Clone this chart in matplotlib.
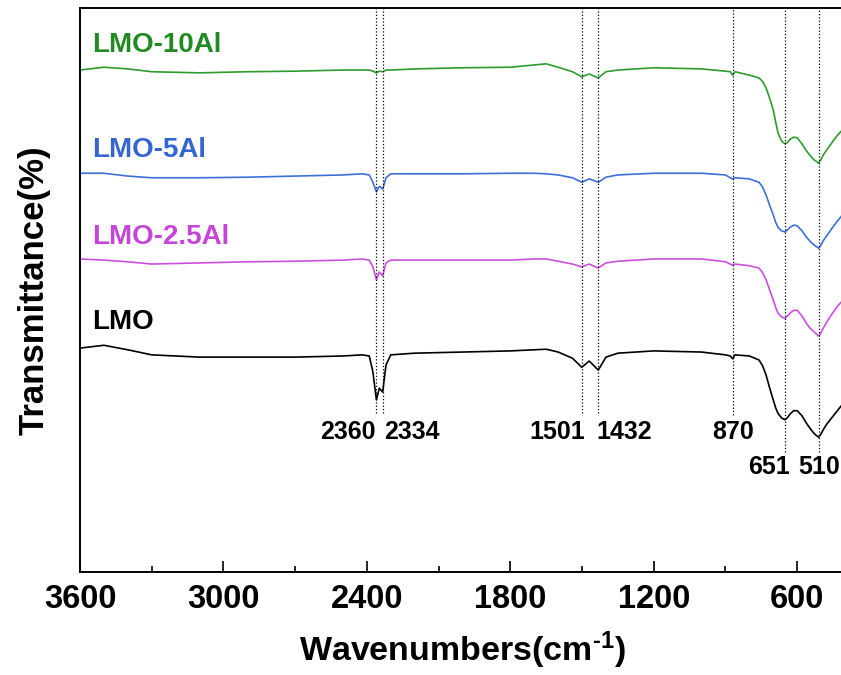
import numpy as np
import matplotlib
matplotlib.use('Agg')
import matplotlib.pyplot as plt

plt.rcParams['font.family'] = ['Liberation Sans', 'DejaVu Sans']
plt.rcParams['font.weight'] = 'bold'
plt.rcParams['mathtext.fontset'] = 'custom'
plt.rcParams['mathtext.rm'] = 'Liberation Sans:bold'
plt.rcParams['mathtext.default'] = 'rm'

# wavenumbers shared by all four spectra (cm-1)
wavenumber = [3600, 3500, 3400, 3300, 3100, 2900, 2700, 2500, 2420, 2390,
              2375, 2360, 2348, 2334, 2320, 2300, 2200, 2000, 1800, 1700,
              1650, 1600, 1540, 1501, 1470, 1432, 1400, 1350, 1200, 1000,
              900, 880, 870, 860, 800, 760, 745, 730, 715, 700,
              690, 680, 665, 651, 640, 630, 615, 600, 580, 560,
              545, 530, 520, 510, 500, 490, 475, 460, 445, 430,
              415, 400]

# stacked transmittance traces (offset, arb. units)
lmo_10al = [89.0, 89.5, 89.2, 88.7, 88.5, 88.7, 88.8, 89.0, 89.0, 89.0,
            88.8, 88.5, 88.8, 88.7, 89.0, 89.0, 89.2, 89.4, 89.5, 89.9,
            90.1, 89.5, 88.7, 87.8, 88.3, 87.6, 88.7, 89.0, 89.4, 89.2,
            88.8, 88.7, 88.1, 88.7, 88.1, 87.6, 87.0, 85.8, 84.0, 81.9,
            79.8, 77.8, 76.4, 75.9, 76.2, 76.7, 77.1, 77.0, 75.9, 74.6,
            73.8, 73.1, 72.8, 72.5, 73.2, 74.0, 74.9, 75.8, 76.7, 77.5,
            78.2, 78.7]
lmo_5al = [70.7, 70.7, 70.2, 69.9, 69.9, 70.0, 70.2, 70.4, 70.6, 70.4,
           69.1, 67.4, 68.4, 67.9, 69.9, 70.6, 70.6, 70.6, 70.7, 70.7,
           70.6, 70.4, 69.9, 69.1, 69.7, 69.1, 70.0, 70.4, 70.7, 70.7,
           70.4, 69.9, 69.7, 69.9, 69.7, 69.1, 68.3, 66.8, 65.0, 63.3,
           62.0, 61.1, 60.5, 60.3, 60.7, 61.1, 61.5, 61.4, 60.5, 59.3,
           58.6, 58.0, 57.7, 57.4, 58.0, 58.8, 59.7, 60.6, 61.5, 62.3,
           63.1, 63.7]
lmo_25al = [55.5, 55.3, 55.0, 54.6, 54.8, 55.0, 55.1, 55.3, 55.5, 55.3,
            54.1, 51.8, 53.2, 52.5, 54.8, 55.3, 55.3, 55.3, 55.3, 55.5,
            55.5, 55.1, 54.6, 54.1, 54.6, 53.9, 54.8, 55.1, 55.5, 55.5,
            55.0, 54.6, 54.4, 54.6, 54.3, 53.9, 53.1, 51.8, 50.0, 48.2,
            46.9, 45.9, 45.2, 45.0, 45.4, 45.9, 46.4, 46.4, 45.4, 44.0,
            43.2, 42.6, 42.2, 41.8, 42.5, 43.3, 44.4, 45.4, 46.3, 47.2,
            47.9, 48.4]
lmo = [39.7, 40.2, 39.4, 38.5, 38.1, 38.1, 38.1, 38.3, 38.5, 38.3,
       35.5, 30.5, 32.6, 31.9, 36.7, 38.5, 38.8, 39.0, 39.2, 39.4,
       39.5, 39.0, 37.9, 36.3, 37.4, 35.8, 38.1, 38.8, 39.2, 39.0,
       38.5, 38.3, 37.8, 38.5, 38.3, 37.6, 36.6, 34.9, 32.6, 30.5,
       29.1, 28.1, 27.3, 27.0, 27.4, 28.0, 28.6, 28.6, 27.7, 26.3,
       25.4, 24.6, 24.2, 23.9, 24.5, 25.3, 26.3, 27.1, 27.9, 28.7,
       29.5, 30.1]

names = ['LMO-10Al', 'LMO-5Al', 'LMO-2.5Al', 'LMO']
colors = ['#2e9b2e', '#3d6fd9', '#cc4fdc', 'black']
text_colors = ['#228a22', '#3566d0', '#c446d6', 'black']
name_y = [93.4, 74.8, 59.4, 44.3]

# marked bands and how far down their guide lines run
peaks = [2360, 2334, 1501, 1432, 870, 651, 510]
peak_line_bottom = [28.2, 28.2, 28.2, 28.2, 27.8, 21.3, 21.3]

fig = plt.figure(figsize=(8.41, 6.75), dpi=100)
ax = fig.add_axes([80/841, 103/675, 765/841, 564/675])

for series, c in zip([lmo_10al, lmo_5al, lmo_25al, lmo], colors):
    ax.plot(wavenumber, series, color=c, lw=1.2, solid_joinstyle='round')

for nm, c, y in zip(names, text_colors, name_y):
    ax.text(3550, y, nm, color=c, fontsize=20, fontweight='bold', va='center', ha='left')

for p, yb in zip(peaks, peak_line_bottom):
    ax.vlines(p, yb, 100, colors='black', linestyles=':', lw=0.9)

# band labels
lbl = dict(fontsize=18, fontweight='bold', va='center')
ax.text(2360 + 5, 24.8, '2360', ha='right', **lbl)
ax.text(2334 - 5, 24.8, '2334', ha='left', **lbl)
ax.text(1501 - 12, 24.8, '1501', ha='right', **lbl)
ax.text(1432 + 8, 24.8, '1432', ha='left', **lbl)
ax.text(870, 24.8, '870', ha='center', **lbl)
ax.text(651 - 20, 18.6, '651', ha='right', **lbl)
ax.text(510, 18.6, '510', ha='center', **lbl)

ax.set_xlim(3600, 400)
ax.set_ylim(0, 100)
ax.set_xticks(np.arange(3600, 500, -600))
ax.set_xticks(np.arange(3300, 400, -600), minor=True)
ax.set_yticks([])
ax.tick_params(axis='x', which='major', direction='in', length=8, width=1.2, pad=9, labelsize=23.5)
ax.tick_params(axis='x', which='minor', direction='in', length=4.5, width=1.2)
for lab in ax.get_xticklabels():
    lab.set_fontweight('bold')
for s in ax.spines.values():
    s.set_linewidth(1.4)

ax.set_xlabel(r'Wavenumbers(cm$^{\text{-1}}$)', fontsize=24.5, fontweight='bold', labelpad=10)
ax.set_ylabel('Transmittance(%)', fontsize=25, fontweight='bold', labelpad=21)

fig.savefig('out.png', dpi=100)
